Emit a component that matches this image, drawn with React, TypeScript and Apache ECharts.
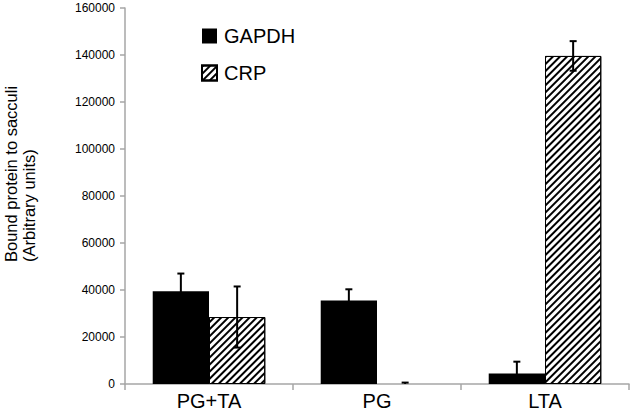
import React, { useEffect, useRef } from "react";
import * as echarts from "echarts";

const categories = ["PG+TA", "PG", "LTA"];
const gapdhValues = [39500, 35500, 4500];
const gapdhErrors = [7500, 4800, 5000];
const crpValues = [28500, 0, 139600];
const crpErrors = [13000, 600, 6300];
const yTicks = { min: 0, max: 160000, interval: 20000 };

const FONT = "Liberation Sans, Arial, sans-serif";

export default function App() {
  const ref = useRef<HTMLDivElement>(null);
  useEffect(() => {
    if (!ref.current) return;
    const chart = echarts.init(ref.current, null, { renderer: "svg" });
    const catGap = 0.33;
    const makeErr = (vals: number[], errs: number[], side: number) => ({
      type: "custom",
      z: 10,
      silent: true,
      data: vals.map((v, i) => [i, Math.max(0, v - errs[i]), v + errs[i], v - errs[i] <= 0 ? 0 : 1]),
      renderItem: (params: any, api: any) => {
        const idx = api.value(0);
        const lo = api.coord([idx, api.value(1)]);
        const hi = api.coord([idx, api.value(2)]);
        const catW = api.size([1, 0])[0];
        const barW = (catW * (1 - catGap)) / 2;
        const x = lo[0] + (side * barW) / 2;
        const cap = 3.5;
        const style = { stroke: "#000", lineWidth: 2 };
        const children: any[] = [
          { type: "line", shape: { x1: x, y1: lo[1], x2: x, y2: hi[1] }, style },
          { type: "line", shape: { x1: x - cap, y1: hi[1], x2: x + cap, y2: hi[1] }, style },
        ];
        if (api.value(3) === 1) {
          children.push({ type: "line", shape: { x1: x - cap, y1: lo[1], x2: x + cap, y2: lo[1] }, style });
        }
        return { type: "group", children };
      },
    });
    chart.setOption({
      animation: false,
      grid: { left: 125, top: 8, right: 4, bottom: 27 },
      legend: {
        orient: "vertical",
        left: 196,
        top: 21,
        itemWidth: 15,
        itemHeight: 15,
        itemGap: 17,
        icon: "rect",
        data: ["GAPDH", "CRP"],
        textStyle: { fontSize: 20, fontFamily: FONT, color: "#000", padding: [0, 0, 0, 2] },
      },
      xAxis: {
        type: "category",
        data: categories,
        axisLine: { lineStyle: { color: "#a6a6a6", width: 1.5 } },
        axisTick: { show: true, length: 6, lineStyle: { color: "#a6a6a6", width: 1.5 } },
        axisLabel: { fontSize: 20, fontFamily: FONT, color: "#000", margin: 7 },
      },
      yAxis: {
        type: "value",
        min: yTicks.min,
        max: yTicks.max,
        interval: yTicks.interval,
        splitLine: { show: false },
        axisLine: { show: true, lineStyle: { color: "#a6a6a6", width: 1.5 } },
        axisTick: { show: true, length: 5, lineStyle: { color: "#a6a6a6", width: 1.5 } },
        axisLabel: {
          fontSize: 12,
          fontFamily: FONT,
          color: "#000",
          margin: 10,
          formatter: (v: number) => String(v),
        },
      },
      graphic: [
        {
          type: "text",
          x: 11,
          y: 262,
          rotation: Math.PI / 2,
          style: {
            text: "Bound protein to sacculi",
            fontSize: 16.5,
            fontFamily: FONT,
            fill: "#000",
            align: "left",
            verticalAlign: "middle",
          },
        },
        {
          type: "text",
          x: 29,
          y: 262,
          rotation: Math.PI / 2,
          style: {
            text: "(Arbitrary units)",
            fontSize: 16.5,
            fontFamily: FONT,
            fill: "#000",
            align: "left",
            verticalAlign: "middle",
          },
        },
      ],
      series: [
        {
          name: "GAPDH",
          type: "bar",
          data: gapdhValues,
          barGap: "0%",
          barCategoryGap: "33%",
          itemStyle: { color: "#000" },
        },
        {
          name: "CRP",
          type: "bar",
          data: crpValues.map((v) => (v === 0 ? { value: v, itemStyle: { borderWidth: 0 } } : v)),
          barGap: "0%",
          barCategoryGap: "33%",
          itemStyle: {
            color: "#fff",
            borderColor: "#000",
            borderWidth: 1,
            decal: {
              symbol: "rect",
              symbolSize: 1,
              color: "#000",
              backgroundColor: "#fff",
              dashArrayX: [1, 0],
              dashArrayY: [2, 2.3],
              rotation: -Math.PI / 4,
            },
          },
        },
        makeErr(gapdhValues, gapdhErrors, -1),
        makeErr(crpValues, crpErrors, 1),
      ],
    });
    return () => chart.dispose();
  }, []);
  return <div ref={ref} style={{ width: 633, height: 411, position: "absolute", left: 0, top: 0 }} />;
}
